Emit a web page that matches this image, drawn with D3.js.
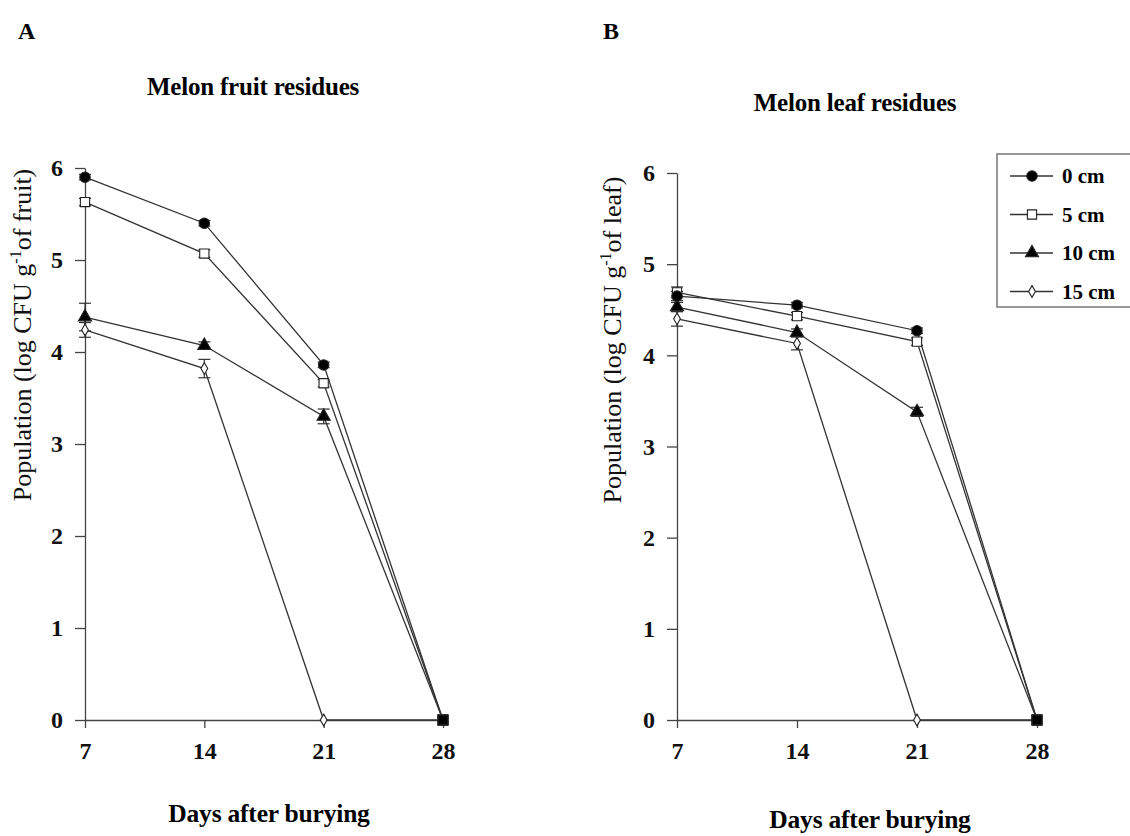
<!DOCTYPE html>
<html>
<head>
<meta charset="utf-8">
<script src="https://cdn.jsdelivr.net/npm/d3@7"></script>
<style>
  body { margin: 0; background: #fff; }
  svg { font-family: "Liberation Serif", "Times New Roman", serif; }
  .axis path, .axis line { stroke: #444; stroke-width: 1.3; }
  .axis text { font-family: "Liberation Serif", "Times New Roman", serif; font-size: 24px; font-weight: bold; fill: #111; }
</style>
</head>
<body>
<svg id="chart" width="1130" height="836"></svg>
<script>
// ---- data ----
var days   = [7, 14, 21, 28];
var depths = ["0 cm", "5 cm", "10 cm", "15 cm"];
var yTicks = [0, 1, 2, 3, 4, 5, 6];

// melon fruit residues
var fruit0  = [5.90, 5.40, 3.86, 0];
var fruit5  = [5.63, 5.07, 3.66, 0];
var fruit10 = [4.38, 4.07, 3.30, 0];
var fruit15 = [4.24, 3.82, 0, 0];
var fruitErr0  = [0.03, 0.03, 0.03, 0];
var fruitErr5  = [0.04, 0.04, 0.04, 0];
var fruitErr10 = [0.15, 0.04, 0.08, 0];
var fruitErr15 = [0.08, 0.10, 0, 0];

// melon leaf residues
var leaf0  = [4.65, 4.55, 4.27, 0];
var leaf5  = [4.69, 4.43, 4.15, 0];
var leaf10 = [4.53, 4.25, 3.38, 0];
var leaf15 = [4.40, 4.13, 0, 0];
var leafErr0  = [0.05, 0.03, 0.03, 0];
var leafErr5  = [0.06, 0.04, 0.04, 0];
var leafErr10 = [0.05, 0.04, 0.05, 0];
var leafErr15 = [0.08, 0.07, 0, 0];

var symbols = [
  { type: d3.symbolCircle,   size: 85, fill: "#000" },
  { type: d3.symbolSquare,   size: 85, fill: "#fff" },
  { type: d3.symbolTriangle, size: 75, fill: "#000" },
  { type: d3.symbolDiamond,  size: 40, fill: "#fff" }
];

var svg = d3.select("#chart");

function panel(o) {
  var x = d3.scaleLinear().domain([7, 28]).range([o.left, o.right]);
  var y = d3.scaleLinear().domain([0, 6]).range([o.bottom, o.top]);

  var g = svg.append("g");

  g.append("g")
      .attr("class", "axis")
      .attr("transform", "translate(0," + o.bottom + ")")
      .call(d3.axisBottom(x).tickValues(days).tickSize(8).tickSizeOuter(0).tickPadding(14));

  g.append("g")
      .attr("class", "axis")
      .attr("transform", "translate(" + o.left + ",0)")
      .call(d3.axisLeft(y).tickValues(yTicks).tickFormat(d3.format("d"))
        .tickSize(10).tickSizeOuter(0).tickPadding(12));

  var series = o.series.map(function(vals, k) {
    return vals.map(function(v, i) { return { d: days[i], v: v, e: o.errs[k][i] }; });
  });

  var line = d3.line().x(function(p) { return x(p.d); }).y(function(p) { return y(p.v); });

  series.forEach(function(s, k) {
    g.append("path")
        .attr("d", line(s))
        .attr("fill", "none")
        .attr("stroke", "#333")
        .attr("stroke-width", 1.3);

    var eb = g.append("g").selectAll("g")
        .data(s.filter(function(p) { return p.e > 0; }))
      .enter().append("g").attr("stroke", "#333").attr("stroke-width", 1.2);
    eb.append("line")
        .attr("x1", function(p) { return x(p.d); }).attr("x2", function(p) { return x(p.d); })
        .attr("y1", function(p) { return y(p.v + p.e); }).attr("y2", function(p) { return y(p.v - p.e); });
    eb.append("line")
        .attr("x1", function(p) { return x(p.d) - 6; }).attr("x2", function(p) { return x(p.d) + 6; })
        .attr("y1", function(p) { return y(p.v + p.e); }).attr("y2", function(p) { return y(p.v + p.e); });
    eb.append("line")
        .attr("x1", function(p) { return x(p.d) - 6; }).attr("x2", function(p) { return x(p.d) + 6; })
        .attr("y1", function(p) { return y(p.v - p.e); }).attr("y2", function(p) { return y(p.v - p.e); });
  });

  // markers: last series first so the 0 cm dots sit on top
  series.slice().reverse().forEach(function(s, rk) {
    var k = series.length - 1 - rk;
    g.selectAll(null)
        .data(s)
      .enter().append("path")
        .attr("transform", function(p) { return "translate(" + x(p.d) + "," + y(p.v) + ")"; })
        .attr("d", function(p) {
          // at day 28 every series ends at zero and the stacked markers read as one black square
          return p.d === 28 ? d3.symbol().type(d3.symbolSquare).size(95)()
                            : d3.symbol().type(symbols[k].type).size(symbols[k].size)();
        })
        .attr("fill", function(p) { return p.d === 28 ? "#000" : symbols[k].fill; })
        .attr("stroke", "#222")
        .attr("stroke-width", 1.1);
  });

  // letter and title
  g.append("text").attr("x", o.letterX).attr("y", 39)
      .attr("font-size", 24).attr("font-weight", "bold").text(o.letter);
  g.append("text").attr("x", o.titleX).attr("y", o.titleY)
      .attr("text-anchor", "middle").attr("font-size", 25).attr("font-weight", "bold")
      .attr("letter-spacing", -0.2).text(o.title);

  // x title
  g.append("text").attr("x", o.xTitleX).attr("y", o.xTitleY)
      .attr("text-anchor", "middle").attr("font-size", 25.5).attr("font-weight", "bold")
      .attr("letter-spacing", -0.2).text("Days after burying");

  // y title
  var yt = g.append("text")
      .attr("transform", "translate(" + o.yTitleX + "," + o.yTitleY + ") rotate(-90)")
      .attr("text-anchor", "middle").attr("font-size", 26).attr("fill", "#111");
  yt.append("tspan").text("Population (log CFU g");
  yt.append("tspan").attr("dy", -10).attr("font-size", 16).text("-1");
  yt.append("tspan").attr("dy", 10).text("of " + o.unit + ")");
}

panel({
  left: 85, right: 443, top: 168, bottom: 720,
  series: [fruit0, fruit5, fruit10, fruit15],
  errs: [fruitErr0, fruitErr5, fruitErr10, fruitErr15],
  letter: "A", letterX: 18,
  title: "Melon fruit residues", titleX: 253, titleY: 95,
  xTitleX: 269, xTitleY: 822,
  yTitleX: 31, yTitleY: 335, unit: "fruit"
});

panel({
  left: 677, right: 1037, top: 173, bottom: 720,
  series: [leaf0, leaf5, leaf10, leaf15],
  errs: [leafErr0, leafErr5, leafErr10, leafErr15],
  letter: "B", letterX: 603,
  title: "Melon leaf residues", titleX: 855, titleY: 111,
  xTitleX: 870, xTitleY: 828,
  yTitleX: 621, yTitleY: 340, unit: "leaf"
});

// legend
var leg = svg.append("g");
leg.append("rect").attr("x", 997).attr("y", 154).attr("width", 140).attr("height", 153)
    .attr("fill", "#fff").attr("stroke", "#777").attr("stroke-width", 1.5);
var row = leg.selectAll(".row").data(depths).enter().append("g")
    .attr("transform", function(d, i) { return "translate(0," + (176 + i * 38.5) + ")"; });
row.append("line").attr("x1", 1010).attr("x2", 1053).attr("stroke", "#333").attr("stroke-width", 1.3);
row.append("path")
    .attr("transform", "translate(1032,0)")
    .attr("d", function(d, i) { return d3.symbol().type(symbols[i].type).size(symbols[i].size)(); })
    .attr("fill", function(d, i) { return symbols[i].fill; })
    .attr("stroke", "#222").attr("stroke-width", 1.1);
row.append("text").attr("x", 1062).attr("y", 7)
    .attr("font-size", 21).attr("font-weight", "bold").text(function(d) { return d; });
</script>
</body>
</html>
